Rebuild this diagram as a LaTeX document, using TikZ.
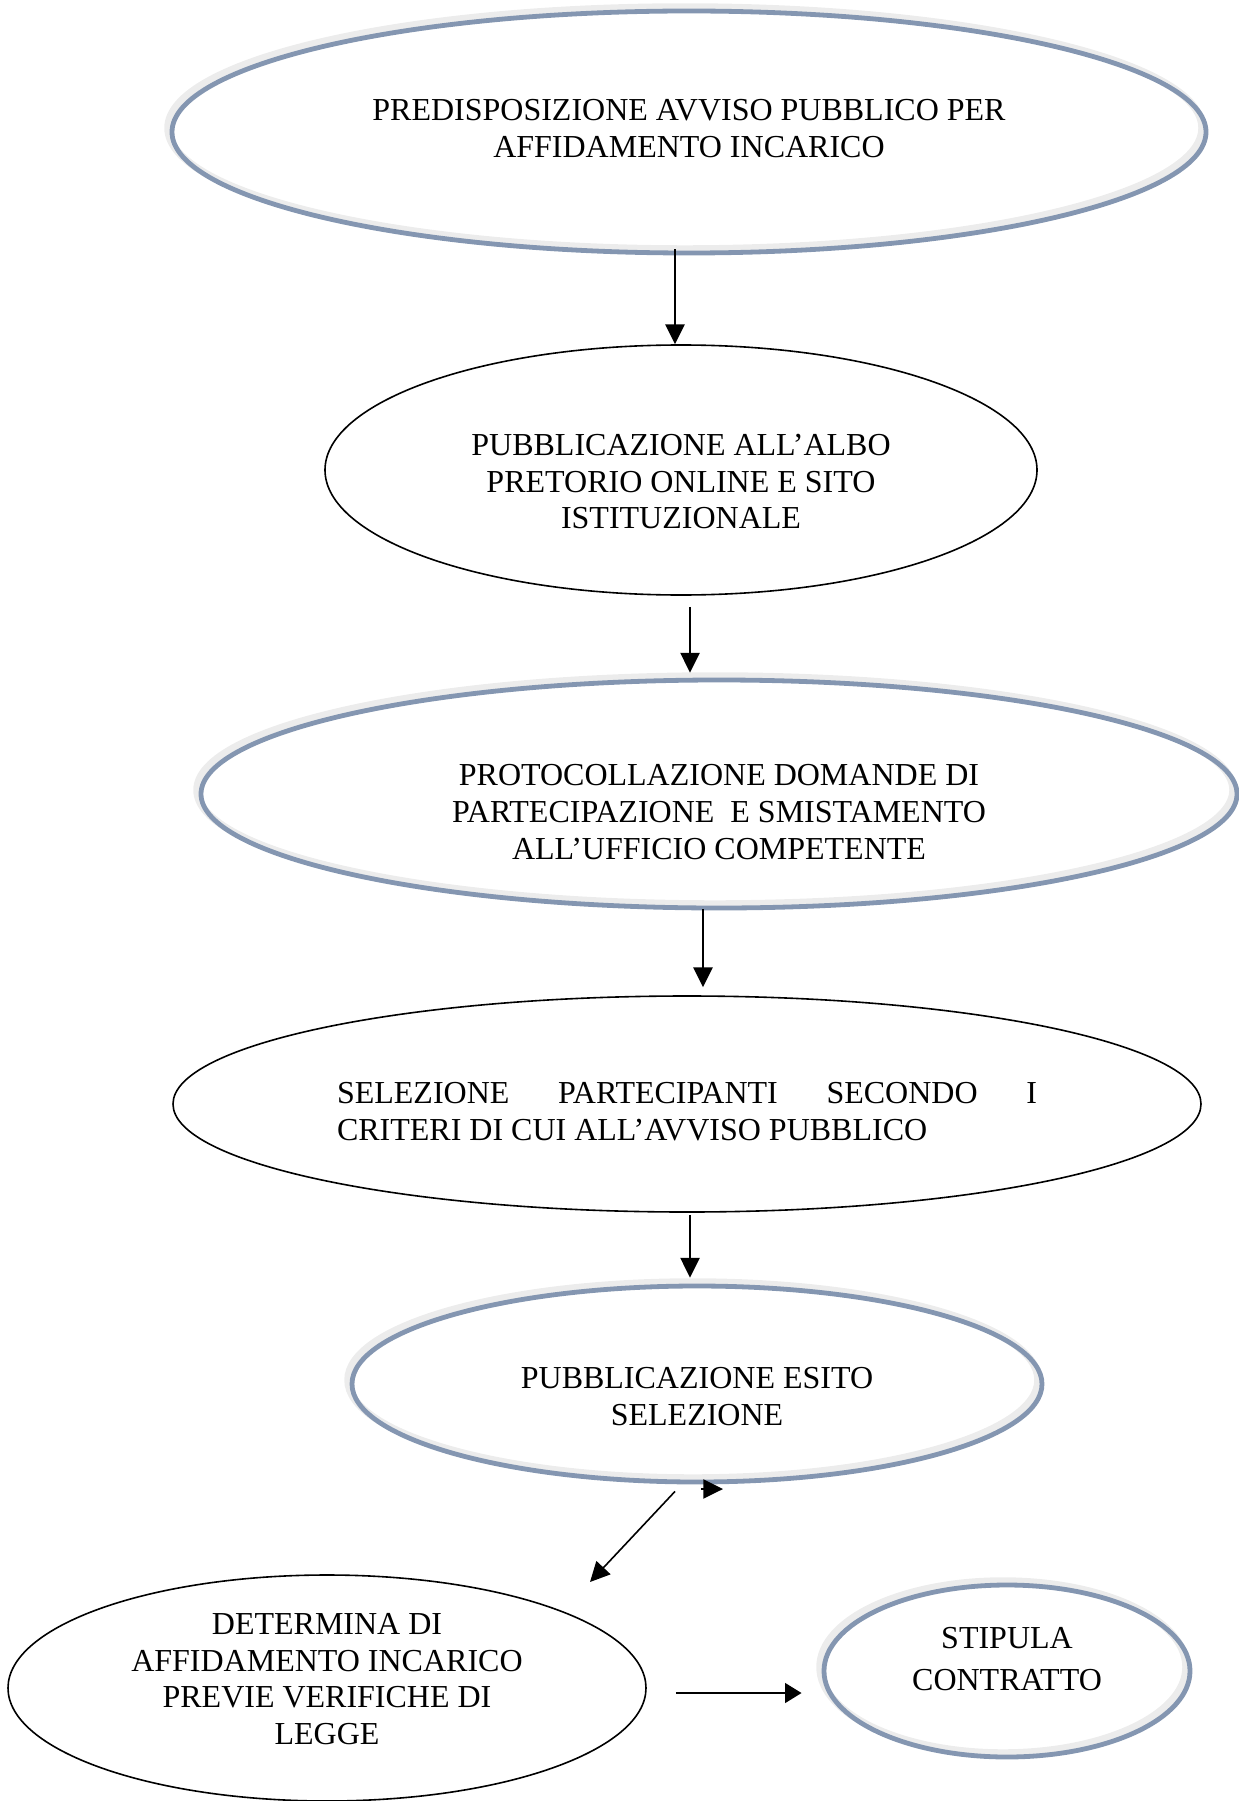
\documentclass[tikz,border=0pt]{standalone}
\usepackage{fontspec}
\setmainfont{Liberation Serif}
\usetikzlibrary{arrows.meta,shapes}

\definecolor{ringblue}{RGB}{132,150,177}
\definecolor{ringgray}{RGB}{236,236,236}
\newcommand{\nodetext}[2]{\raisebox{#1}[\height][\depth]{\begin{tabular}{@{}c@{}}#2\end{tabular}}}
\tikzset{
  plain/.style={shape=ellipse,draw=black,line width=0.6pt,inner sep=0pt},
  ring/.style={shape=ellipse,draw=ringblue,line width=1.8pt,inner sep=0pt,
    preaction={draw=ringgray,line width=2.8pt,transform canvas={shift={(-1.5pt,1.5pt)}}}}
}

\begin{document}
\begin{tikzpicture}[->,>={Triangle[length=7.4pt,width=7.2pt]},line width=0.6pt,
    x=0.375pt,y=-0.375pt,font=\fontsize{12}{13.8}\selectfont]
                \useasboundingbox (0,0) rectangle (1238,1801);
                \node[ring,minimum width=387.75pt,minimum height=90.75pt](avviso)at(689, 132){\nodetext{0pt}{PREDISPOSIZIONE AVVISO PUBBLICO PER\\AFFIDAMENTO INCARICO}};
                \node[plain,minimum width=267pt,minimum height=93.75pt](albo)at(681, 470){\nodetext{-5.5pt}{PUBBLICAZIONE ALL’ALBO\\PRETORIO ONLINE E SITO\\ISTITUZIONALE}};
                \node[ring,minimum width=388.5pt,minimum height=85.5pt](protocollo)at(719, 794){\nodetext{-8pt}{PROTOCOLLAZIONE DOMANDE DI\\PARTECIPAZIONE\ \ E SMISTAMENTO\\ALL’UFFICIO COMPETENTE}};
                \node[plain,minimum width=385.5pt,minimum height=81pt](selezione)at(687, 1104){\raisebox{-3pt}[\height][\depth]{\parbox{262.5pt}{SELEZIONE\hfill PARTECIPANTI\hfill SECONDO\hfill I\\CRITERI DI CUI ALL’AVVISO PUBBLICO}}};
                \node[ring,minimum width=258.75pt,minimum height=73.5pt](esito)at(697, 1384){\nodetext{-5.9pt}{PUBBLICAZIONE ESITO\\SELEZIONE}};
                \node[plain,minimum width=239.25pt,minimum height=84.75pt](determina)at(327, 1688){\nodetext{2.2pt}{DETERMINA DI\\AFFIDAMENTO INCARICO\\PREVIE VERIFICHE DI\\LEGGE}};
                \node[ring,minimum width=137.25pt,minimum height=64.5pt](stipula)at(1007, 1671){\nodetext{3.3pt}{STIPULA\\[2.1pt]CONTRATTO}};
                \coordinate(stray1)at(701, 1489);
                \coordinate(stray2)at(723, 1489);
                \path[](avviso.south) ++(-14, -6) coordinate(a1) (albo.north) ++(-6, 0) coordinate(a2)
                (albo.south) ++(9, 11) coordinate(b1) (protocollo.north) ++(-29, -5) coordinate(b2)
                (protocollo.south) ++(-16, -1) coordinate(c1) (selezione.north) ++(16, -8) coordinate(c2)
                (selezione.south) ++(3, 2) coordinate(d1) (esito.north) ++(-7, -6) coordinate(d2)
                (esito.south) ++(-22, 7) coordinate(e1) (determina.center) ++(263, -106) coordinate(e2)
                (determina.east) ++(29, 5) coordinate(f1) (stipula.west) ++(-20, 22) coordinate(f2);
                \path[](a1) edge (a2)
                (b1) edge (b2)
                (c1) edge (c2)
                (d1) edge (d2)
                (e1) edge (e2)
                (f1) edge[line width=1.1pt,>={Triangle[length=6.2pt,width=7.3pt]}] (f2)
                (stray1) edge (stray2);
            \end{tikzpicture}
\end{document}
